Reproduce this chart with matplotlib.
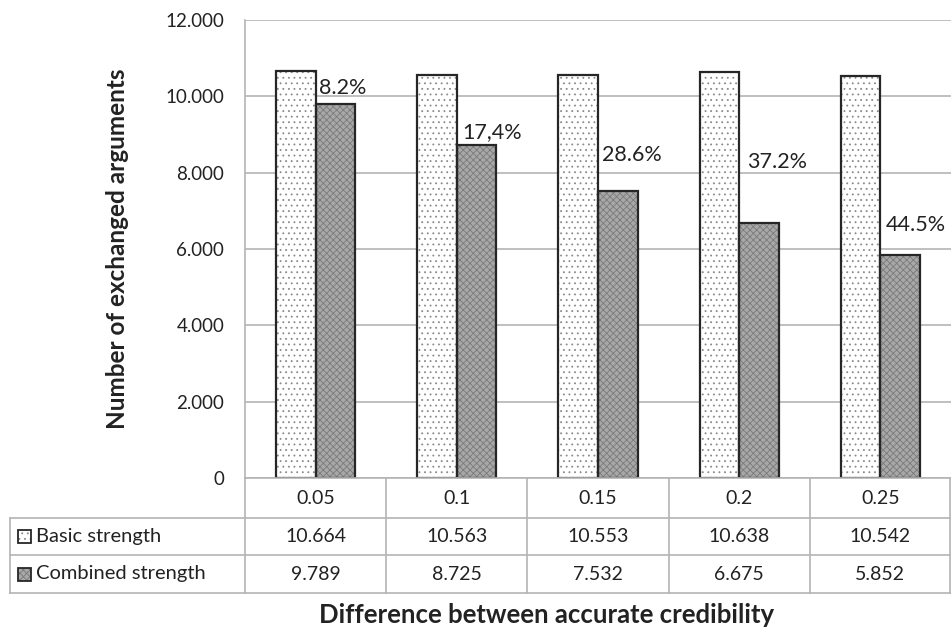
import matplotlib
matplotlib.use('Agg')
import matplotlib.pyplot as plt
from matplotlib.lines import Line2D
from matplotlib.patches import Rectangle
from matplotlib.ticker import FuncFormatter

# data
categories = ['0.05', '0.1', '0.15', '0.2', '0.25']
basic = [10664, 10563, 10553, 10638, 10542]
combined = [9789, 8725, 7532, 6675, 5852]
pct_labels = ['8.2%', '17,4%', '28.6%', '37.2%', '44.5%']
series_names = ['Basic strength', 'Combined strength']

# label lift above the combined bars (pixels), as placed in the original
label_lift = [16, 13, 36, 61, 30]
label_shift = [3, 5, 4, 8, 5]

W, H = 951, 632
plt.rcParams['font.family'] = ['Lato', 'DejaVu Sans']
plt.rcParams['hatch.linewidth'] = 0.6
FS = 13.5
TXT = '#222222'
GRID = '#b4b4b4'
EDGE = '#262626'


def fx(px):
    return px / W


def fy(py):
    return 1 - py / H


def thousands(v):
    return f'{int(v):,}'.replace(',', '.')


def hline(fig, x0, x1, y):
    fig.add_artist(Line2D([fx(x0), fx(x1)], [fy(y), fy(y)], color=GRID, lw=1.2,
                          transform=fig.transFigure))


def vline(fig, x, y0, y1):
    fig.add_artist(Line2D([fx(x), fx(x)], [fy(y0), fy(y1)], color=GRID, lw=1.2,
                          transform=fig.transFigure))


def main():
    fig = plt.figure(figsize=(W / 100, H / 100), dpi=100)
    ax_l, ax_r, ax_t, ax_b = 245, 951, 20, 478
    ax = fig.add_axes([fx(ax_l), fy(ax_b), fx(ax_r - ax_l), fy(ax_t) - fy(ax_b)])

    n = len(categories)
    xs = list(range(n))
    bw = 0.28

    # basic strength: white with dotted texture
    ax.bar([x - bw / 2 for x in xs], basic, bw, color='white', edgecolor='#8a8a8a',
           hatch='...', linewidth=0, zorder=2)
    ax.bar([x - bw / 2 for x in xs], basic, bw, fill=False, edgecolor=EDGE,
           linewidth=1.6, zorder=3)
    # combined strength: grey with fine cross texture
    ax.bar([x + bw / 2 for x in xs], combined, bw, color='#a8a8a8', edgecolor='#7a7a7a',
           hatch='xxxxx', linewidth=0, zorder=2)
    ax.bar([x + bw / 2 for x in xs], combined, bw, fill=False, edgecolor=EDGE,
           linewidth=1.6, zorder=3)

    for i, lab in enumerate(pct_labels):
        ax.annotate(lab, (xs[i], combined[i]), xytext=(label_shift[i], label_lift[i]),
                    textcoords='offset pixels', ha='left', va='center',
                    fontsize=15.5, color=TXT, zorder=4)

    ax.set_xlim(-0.5, n - 0.5)
    ax.set_ylim(0, 12000)
    ax.set_yticks(range(0, 12001, 2000))
    ax.yaxis.set_major_formatter(FuncFormatter(lambda v, p: thousands(v)))
    ax.tick_params(axis='y', length=0, pad=15, labelsize=FS, labelcolor=TXT)
    ax.set_xticks([])
    ax.grid(axis='y', color=GRID, lw=1.2, zorder=0)
    for s in ['top', 'right', 'bottom']:
        ax.spines[s].set_visible(False)
    ax.spines['left'].set_color(GRID)
    ax.spines['left'].set_linewidth(1.2)
    ax.set_axisbelow(True)

    ax.set_ylabel('Number of exchanged arguments', fontsize=17.5, fontweight='bold',
                  color=TXT)
    ax.yaxis.set_label_coords((129 - ax_l) / (ax_r - ax_l), 0.5)

    # data table below the plot
    rows = [478, 518, 555, 593]
    col_w = (ax_r - ax_l) / n
    cols = [ax_l + col_w * i for i in range(n + 1)]
    hline(fig, ax_l, ax_r, rows[0])
    for y in rows[1:]:
        hline(fig, 10, ax_r, y)
    vline(fig, 10, rows[1], rows[3])
    for x in cols:
        vline(fig, min(x, 950), rows[0], rows[3])

    centers = [(rows[i] + rows[i + 1]) / 2 for i in range(3)]
    for i in range(n):
        cx = (cols[i] + cols[i + 1]) / 2
        fig.text(fx(cx), fy(centers[0]), categories[i], ha='center', va='center',
                 fontsize=14, color=TXT)
        fig.text(fx(cx), fy(centers[1]), thousands(basic[i]), ha='center', va='center',
                 fontsize=14, color=TXT)
        fig.text(fx(cx), fy(centers[2]), thousands(combined[i]), ha='center', va='center',
                 fontsize=14, color=TXT)

    # legend keys inside the table
    key_styles = [dict(fc='white', hc='#8a8a8a', hatch='...'),
                  dict(fc='#a8a8a8', hc='#7a7a7a', hatch='xxxxx')]
    for r, (name, st) in enumerate(zip(series_names, key_styles)):
        cy = centers[r + 1]
        k = 13
        fig.add_artist(Rectangle((fx(18), fy(cy + k / 2)), fx(k), fy(cy - k / 2) - fy(cy + k / 2),
                                 facecolor=st['fc'], edgecolor=st['hc'], hatch=st['hatch'],
                                 lw=0, transform=fig.transFigure))
        fig.add_artist(Rectangle((fx(18), fy(cy + k / 2)), fx(k), fy(cy - k / 2) - fy(cy + k / 2),
                                 fill=False, edgecolor=EDGE, lw=1.3,
                                 transform=fig.transFigure))
        fig.text(fx(36), fy(cy), name, ha='left', va='center', fontsize=14.5, color=TXT)

    fig.text(fx(547), fy(615), 'Difference between accurate credibility', ha='center',
             va='center', fontsize=18.5, fontweight='bold', color=TXT)

    fig.savefig('out.png', dpi=100)


if __name__ == '__main__':
    main()
